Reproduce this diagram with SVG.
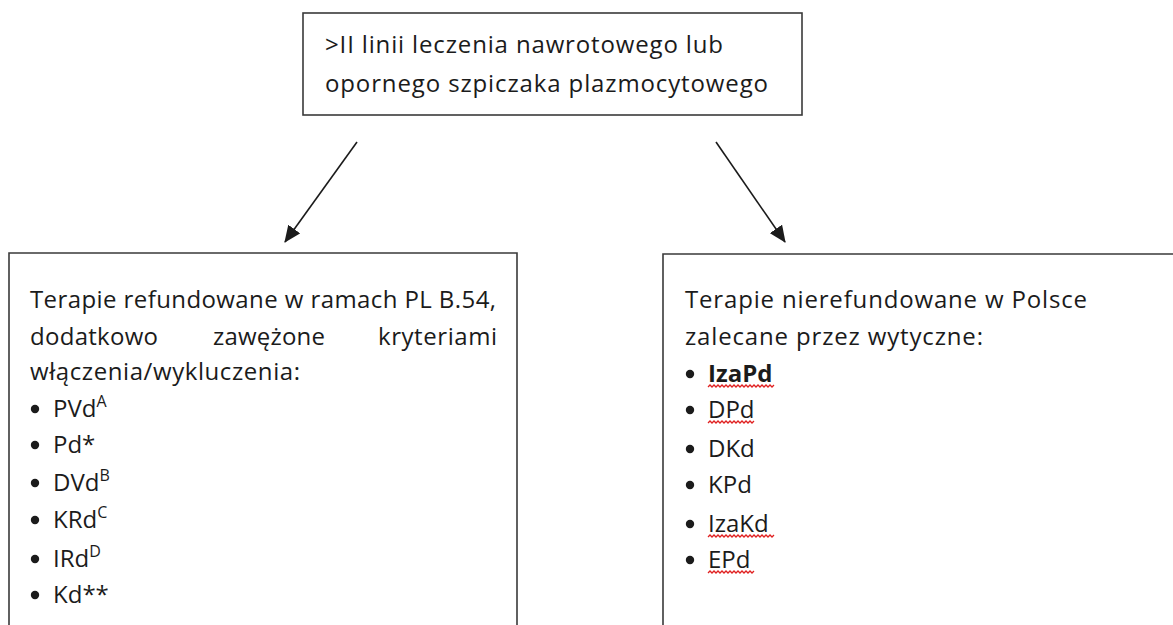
<svg xmlns="http://www.w3.org/2000/svg" width="1173" height="625" viewBox="0 0 1173 625">
<defs>
<style>
.box{fill:#fff;stroke:#3a3a3a;stroke-width:1.6}
.t{font-family:"Open Sans","Liberation Sans",sans-serif;font-size:24px;fill:#1b1b1b}
.b{font-weight:bold}
.sup{font-size:16px}
.dot{fill:#1b1b1b}
.conn{stroke:#1b1b1b;stroke-width:1.6;fill:none}
.wave{stroke:#e02020;stroke-width:1.3;fill:none}
</style>
<marker id="ah2" viewBox="0 0 16 14" refX="15" refY="7" markerWidth="17" markerHeight="15" markerUnits="userSpaceOnUse" orient="auto">
<path d="M0,0 L16,7 L0,14 z" fill="#1b1b1b"/>
</marker>
</defs>
<rect width="1173" height="625" fill="#fff"/>
<g id="connectors">
<line class="conn" x1="357" y1="142" x2="285" y2="242" marker-end="url(#ah2)"/>
<line class="conn" x1="716" y1="142" x2="785" y2="242" marker-end="url(#ah2)"/>
</g>
<g id="node-top">
<rect class="box" x="303" y="13" width="499" height="102"/>
<text class="t" x="325" y="53" textLength="398" lengthAdjust="spacing">&gt;II linii leczenia nawrotowego lub</text>
<text class="t" x="325" y="92" textLength="443" lengthAdjust="spacing">opornego szpiczaka plazmocytowego</text>
</g>
<g id="node-left">
<path class="box" d="M9,630 L9,253 L517,253 L517,630"/>
<text class="t" x="30" y="308" textLength="466" lengthAdjust="spacing">Terapie refundowane w ramach PL B.54,</text>
<text class="t" x="30" y="345" textLength="128" lengthAdjust="spacing">dodatkowo</text>
<text class="t" x="213" y="345" textLength="112" lengthAdjust="spacing">zawężone</text>
<text class="t" x="378" y="345" textLength="119" lengthAdjust="spacing">kryteriami</text>
<text class="t" x="30" y="380" textLength="270" lengthAdjust="spacing">włączenia/wykluczenia:</text>
<circle class="dot" cx="35" cy="409" r="4.2"/>
<text class="t" x="53" y="417">PVd<tspan class="sup" dy="-10">A</tspan></text>
<circle class="dot" cx="35" cy="445" r="4.2"/>
<text class="t" x="53" y="453">Pd*</text>
<circle class="dot" cx="35" cy="483" r="4.2"/>
<text class="t" x="53" y="491">DVd<tspan class="sup" dy="-10">B</tspan></text>
<circle class="dot" cx="35" cy="520" r="4.2"/>
<text class="t" x="53" y="528">KRd<tspan class="sup" dy="-10">C</tspan></text>
<circle class="dot" cx="35" cy="559" r="4.2"/>
<text class="t" x="53" y="567">IRd<tspan class="sup" dy="-10">D</tspan></text>
<circle class="dot" cx="35" cy="595" r="4.2"/>
<text class="t" x="53" y="603">Kd**</text>
</g>
<g id="node-right">
<path class="box" d="M663,630 L663,254 L1180,254"/>
<text class="t" x="685" y="308" textLength="402" lengthAdjust="spacing">Terapie nierefundowane w Polsce</text>
<text class="t" x="685" y="345" textLength="298" lengthAdjust="spacing">zalecane przez wytyczne:</text>
<circle class="dot" cx="690" cy="374" r="4.2"/>
<text class="t b" x="708" y="382">IzaPd</text>
<path class="wave" d="M708,387 l2,-2 l2,2 l2,-2 l2,2 l2,-2 l2,2 l2,-2 l2,2 l2,-2 l2,2 l2,-2 l2,2 l2,-2 l2,2 l2,-2 l2,2 l2,-2 l2,2 l2,-2 l2,2 l2,-2 l2,2 l2,-2 l2,2 l2,-2 l2,2 l2,-2 l2,2 l2,-2 l2,2 l2,-2 l2,2 l2,-2"/>
<circle class="dot" cx="690" cy="410" r="4.2"/>
<text class="t" x="708" y="418">DPd</text>
<path class="wave" d="M708,423 l2,-2 l2,2 l2,-2 l2,2 l2,-2 l2,2 l2,-2 l2,2 l2,-2 l2,2 l2,-2 l2,2 l2,-2 l2,2 l2,-2 l2,2 l2,-2 l2,2 l2,-2 l2,2 l2,-2 l2,2 l2,-2"/>
<circle class="dot" cx="690" cy="449" r="4.2"/>
<text class="t" x="708" y="457">DKd</text>
<circle class="dot" cx="690" cy="485" r="4.2"/>
<text class="t" x="708" y="493">KPd</text>
<circle class="dot" cx="690" cy="524" r="4.2"/>
<text class="t" x="708" y="532">IzaKd</text>
<path class="wave" d="M708,537 l2,-2 l2,2 l2,-2 l2,2 l2,-2 l2,2 l2,-2 l2,2 l2,-2 l2,2 l2,-2 l2,2 l2,-2 l2,2 l2,-2 l2,2 l2,-2 l2,2 l2,-2 l2,2 l2,-2 l2,2 l2,-2 l2,2 l2,-2 l2,2 l2,-2 l2,2 l2,-2 l2,2 l2,-2 l2,2 l2,-2"/>
<circle class="dot" cx="690" cy="560" r="4.2"/>
<text class="t" x="708" y="568">EPd</text>
<path class="wave" d="M708,573 l2,-2 l2,2 l2,-2 l2,2 l2,-2 l2,2 l2,-2 l2,2 l2,-2 l2,2 l2,-2 l2,2 l2,-2 l2,2 l2,-2 l2,2 l2,-2 l2,2 l2,-2 l2,2 l2,-2 l2,2 l2,-2"/>
</g>
</svg>
